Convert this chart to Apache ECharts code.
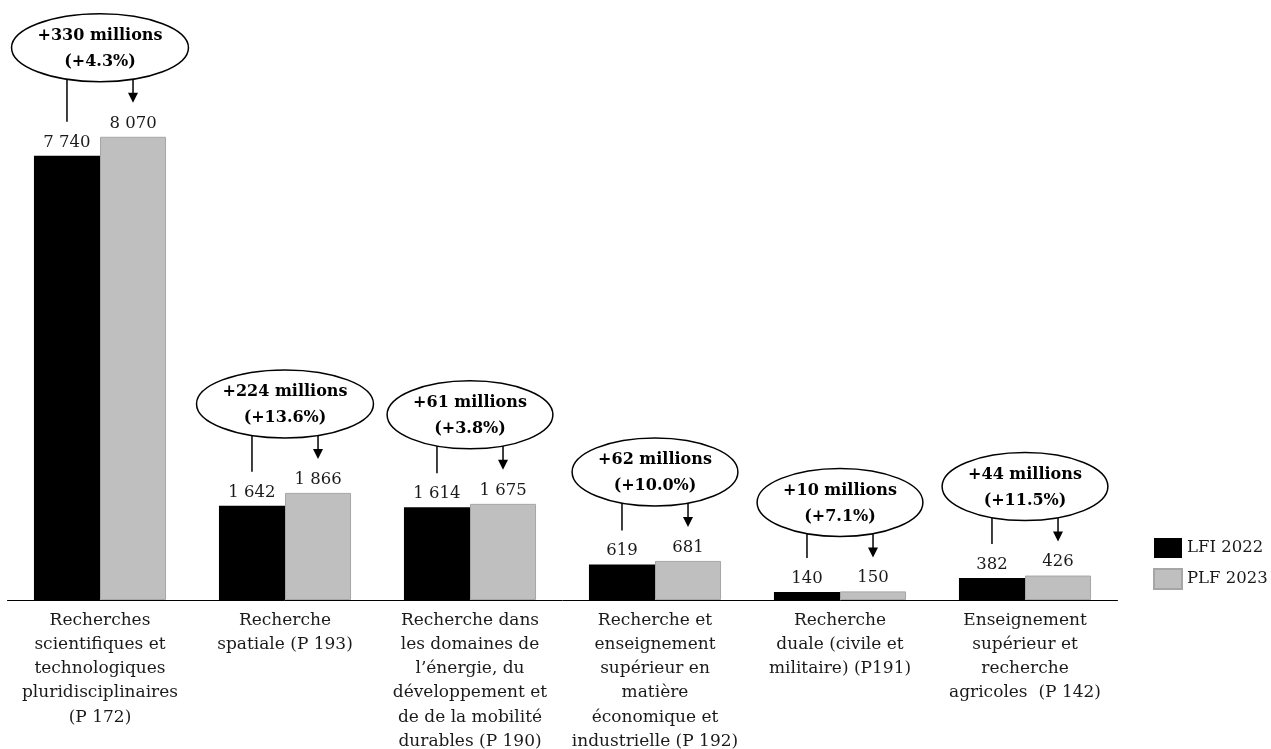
<!DOCTYPE html>
<html>
<head>
<meta charset="utf-8">
<script src="https://cdn.jsdelivr.net/npm/echarts@6/dist/echarts.min.js"></script>
<style>
  html, body { margin: 0; padding: 0; background: #ffffff; }
  #chart { width: 1271px; height: 749px; }
</style>
</head>
<body>
<div id="chart"></div>
<script>
// Programme categories (axis labels, manually wrapped)
const categories = [
  'Recherches\nscientifiques et\ntechnologiques\npluridisciplinaires\n(P 172)',
  'Recherche\nspatiale (P 193)',
  'Recherche dans\nles domaines de\nl’énergie, du\ndéveloppement et\nde de la mobilité\ndurables (P 190)',
  'Recherche et\nenseignement\nsupérieur en\nmatière\néconomique et\nindustrielle (P 192)',
  'Recherche\nduale (civile et\nmilitaire) (P191)',
  'Enseignement\nsupérieur et\nrecherche\nagricoles  (P 142)'
];

// Credits in millions of euros
const lfi2022 = [7740, 1642, 1614, 619, 140, 382];
const plf2023 = [8070, 1866, 1675, 681, 150, 426];

// Change annotations shown in the ellipses
const diffLabels = ['+330 millions', '+224 millions', '+61 millions', '+62 millions', '+10 millions', '+44 millions'];
const pctLabels = ['(+4.3%)', '(+13.6%)', '(+3.8%)', '(+10.0%)', '(+7.1%)', '(+11.5%)'];

const seriesNames = ['LFI 2022', 'PLF 2023'];

const FONT = "'DejaVu Serif', 'Liberation Serif', serif";
const CAT_GAP = 0.286;

function frNumber(v) {
  return String(v).replace(/\B(?=(\d{3})+(?!\d))/g, ' ');
}

const measureCtx = document.createElement('canvas').getContext('2d');
function textWidth(str, font) {
  measureCtx.font = font;
  return measureCtx.measureText(str).width;
}

const annotationData = categories.map((c, i) => [i, lfi2022[i], plf2023[i]]);

function renderAnnotation(params, api) {
  const idx = params.dataIndex;
  const lfi = api.value(1);
  const plf = api.value(2);
  const grayTop = api.coord([idx, plf]);
  const blackTop = api.coord([idx, lfi]);
  const cx = grayTop[0];
  const band = api.size([1, 0])[0];
  const barW = band * (1 - CAT_GAP) / 2;
  const xBlack = cx - barW / 2;
  const xGray = cx + barW / 2;

  const boldFont = 'bold 16px ' + FONT;
  const tw = Math.max(textWidth(diffLabels[idx], boldFont), textWidth(pctLabels[idx], boldFont));
  const rx = tw / 2 + 26;
  const ry = 34;
  const cy = grayTop[1] - 55 - ry;

  // y of the ellipse outline directly above a given x
  const edgeY = function (x) {
    const d = (x - cx) / rx;
    return cy + ry * Math.sqrt(Math.max(0, 1 - d * d));
  };

  const lineStyle = { stroke: '#000', lineWidth: 1.5 };
  const tipY = grayTop[1] - 34;
  const headH = 10, headW = 5;

  return {
    type: 'group',
    children: [
      {
        type: 'line',
        shape: { x1: xBlack, y1: edgeY(xBlack), x2: xBlack, y2: blackTop[1] - 34 },
        style: lineStyle
      },
      {
        type: 'line',
        shape: { x1: xGray, y1: edgeY(xGray), x2: xGray, y2: tipY - headH + 1 },
        style: lineStyle
      },
      {
        type: 'polygon',
        shape: { points: [[xGray - headW, tipY - headH], [xGray + headW, tipY - headH], [xGray, tipY]] },
        style: { fill: '#000' }
      },
      {
        type: 'ellipse',
        shape: { cx: cx, cy: cy, rx: rx, ry: ry },
        style: { fill: '#fff', stroke: '#000', lineWidth: 1.5 }
      },
      {
        type: 'text',
        x: cx,
        y: cy + 1,
        style: {
          text: diffLabels[idx] + '\n' + pctLabels[idx],
          font: boldFont,
          lineHeight: 26,
          fill: '#000',
          align: 'center',
          verticalAlign: 'middle'
        }
      }
    ]
  };
}

const chart = echarts.init(document.getElementById('chart'), null, { renderer: 'canvas' });

chart.setOption({
  animation: false,
  backgroundColor: '#ffffff',
  textStyle: { fontFamily: FONT },
  grid: {
    left: 7.5, right: 153.5, top: 26, bottom: 149,
    containLabel: false,
    outerBoundsMode: 'none'
  },
  legend: {
    data: seriesNames,
    orient: 'vertical',
    left: 1153,
    top: 538,
    padding: 0,
    itemWidth: 28,
    itemHeight: 20,
    itemGap: 10,
    icon: 'rect',
    textStyle: { fontFamily: FONT, fontSize: 16.5, color: '#1a1a1a' }
  },
  xAxis: {
    type: 'category',
    data: categories,
    axisLine: { show: true, lineStyle: { color: '#000', width: 1 } },
    axisTick: { show: false },
    axisLabel: {
      interval: 0,
      margin: 8,
      color: '#1a1a1a',
      fontFamily: FONT,
      fontSize: 17,
      lineHeight: 24.3,
      align: 'center',
      hideOverlap: false
    }
  },
  yAxis: {
    type: 'value',
    min: 0,
    max: 10000,
    show: false,
    splitLine: { show: false }
  },
  series: [
    {
      name: seriesNames[0],
      type: 'bar',
      data: lfi2022,
      barGap: '0%',
      barCategoryGap: (CAT_GAP * 100) + '%',
      itemStyle: { color: '#000000' },
      label: {
        show: true,
        position: 'top',
        distance: 5,
        color: '#1a1a1a',
        fontFamily: FONT,
        fontSize: 16.5,
        formatter: p => frNumber(p.value)
      }
    },
    {
      name: seriesNames[1],
      type: 'bar',
      data: plf2023,
      barGap: '0%',
      barCategoryGap: (CAT_GAP * 100) + '%',
      itemStyle: { color: '#bfbfbf', borderColor: '#a6a6a6', borderWidth: 1 },
      label: {
        show: true,
        position: 'top',
        distance: 5,
        color: '#1a1a1a',
        fontFamily: FONT,
        fontSize: 16.5,
        formatter: p => frNumber(p.value)
      }
    },
    {
      name: 'variation',
      type: 'custom',
      data: annotationData,
      encode: { x: 0, y: 2 },
      clip: false,
      silent: true,
      z: 5,
      renderItem: renderAnnotation
    }
  ]
});
</script>
</body>
</html>
